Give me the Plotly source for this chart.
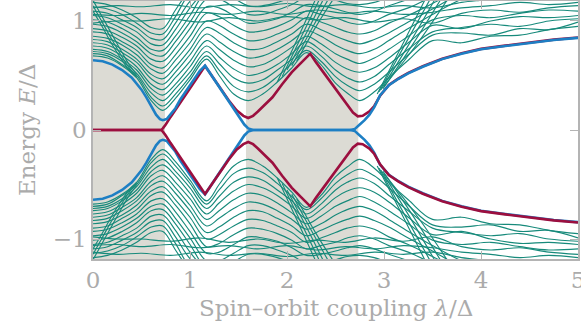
import plotly.graph_objects as go

# ---------------- data (upper half, E >= 0; lower half is the mirror image) -------------
# Lowest Majorana / Andreev branches
blue_x = [0, 0.1, 0.2, 0.3, 0.4, 0.5, 0.55, 0.6, 0.65, 0.69, 0.72, 0.76, 0.8, 0.85, 0.9, 1.0, 1.1, 1.155,
          1.2, 1.3, 1.4, 1.5, 1.56, 1.6, 1.65, 2.65, 2.7, 2.75, 2.8, 2.85, 2.9, 2.96, 3.05, 3.15, 3.25,
          3.4, 3.6, 3.8, 4.0, 4.25, 4.5, 4.75, 5.0]
blue_e = [0.64, 0.63, 0.60, 0.55, 0.48, 0.37, 0.30, 0.22, 0.14, 0.10, 0.09, 0.10, 0.14, 0.20, 0.28, 0.41, 0.54, 0.59,
          0.53, 0.39, 0.255, 0.12, 0.05, 0.015, 0.0, 0.0, 0.01, 0.05, 0.09, 0.14, 0.21, 0.32, 0.41, 0.47, 0.52,
          0.58, 0.65, 0.70, 0.74, 0.77, 0.80, 0.825, 0.845]

red_x = [0, 0.705, 0.72, 0.75, 0.8, 0.9, 1.0, 1.1, 1.155, 1.2, 1.3, 1.4, 1.48, 1.55, 1.6, 1.65, 1.7, 1.78,
         1.85, 1.95, 2.05, 2.15, 2.24, 2.3, 2.4, 2.5, 2.6, 2.68, 2.73, 2.78, 2.85, 2.9, 2.96, 3.05, 3.15,
         3.25, 3.4, 3.6, 3.8, 4.0, 4.25, 4.5, 4.75, 5.0]
red_e = [0, 0, 0.015, 0.05, 0.12, 0.25, 0.38, 0.51, 0.587, 0.53, 0.40, 0.27, 0.18, 0.13, 0.11, 0.13, 0.17, 0.24,
         0.30, 0.42, 0.53, 0.62, 0.70, 0.62, 0.50, 0.37, 0.25, 0.16, 0.125, 0.13, 0.17, 0.22, 0.315, 0.414, 0.474,
         0.524, 0.584, 0.654, 0.704, 0.744, 0.774, 0.804, 0.829, 0.849]

# Bulk (quasi-continuum) levels read on a shared grid
x_grid = [0, 0.15, 0.3, 0.45, 0.6, 0.72, 0.85, 1.0, 1.17, 1.3, 1.45, 1.6, 1.75, 1.9, 2.05, 2.2, 2.35,
          2.5, 2.62, 2.75, 2.9, 3.05, 3.25, 3.5, 3.8, 4.1, 4.4, 4.7, 5.0]
level_01 = [0.68, 0.66, 0.59, 0.48, 0.27, 0.18, 0.29, 0.46, 0.65, 0.50, 0.33, 0.27, 0.33, 0.44, 0.57, 0.71, 0.60,
            0.43, 0.34, 0.27, 0.35, 0.48, 0.64, 0.82, 0.80, 0.86, 0.87, 0.92, 0.95]
level_02 = [0.70, 0.68, 0.60, 0.50, 0.30, 0.22, 0.33, 0.49, 0.68, 0.55, 0.40, 0.35, 0.39, 0.49, 0.61, 0.73, 0.63,
            0.49, 0.41, 0.36, 0.42, 0.53, 0.69, 0.87, 0.89, 0.87, 0.93, 0.92, 0.99]
level_03 = [0.72, 0.70, 0.63, 0.52, 0.34, 0.27, 0.38, 0.53, 0.72, 0.61, 0.48, 0.43, 0.46, 0.55, 0.65, 0.77, 0.68,
            0.55, 0.48, 0.44, 0.49, 0.60, 0.74, 0.90, 0.94, 0.97, 0.95, 1.00, 1.02]
level_04 = [0.74, 0.72, 0.65, 0.55, 0.38, 0.32, 0.42, 0.58, 0.77, 0.67, 0.56, 0.50, 0.53, 0.60, 0.70, 0.81, 0.73,
            0.62, 0.56, 0.53, 0.57, 0.66, 0.80, 0.96, 0.93, 1.00, 1.04, 1.03, 1.05]
level_05 = [0.77, 0.75, 0.68, 0.58, 0.42, 0.37, 0.48, 0.63, 0.82, 0.74, 0.64, 0.58, 0.60, 0.67, 0.76, 0.86, 0.79,
            0.70, 0.65, 0.61, 0.66, 0.74, 0.86, 1.01, 1.05, 1.03, 1.07, 1.10, 1.09]
level_06 = [0.80, 0.78, 0.71, 0.62, 0.47, 0.42, 0.53, 0.69, 0.88, 0.81, 0.72, 0.66, 0.68, 0.74, 0.82, 0.91, 0.86,
            0.78, 0.73, 0.70, 0.74, 0.82, 0.93, 1.06, 1.20, 1.30]
level_07 = [0.83, 0.81, 0.74, 0.65, 0.51, 0.47, 0.58, 0.74, 0.94, 0.89, 0.80, 0.74, 0.75, 0.81, 0.88, 0.97, 0.92,
            0.86, 0.82, 0.79, 0.83, 0.89, 0.99, 1.11, 1.25, 1.30]
level_08 = [0.86, 0.84, 0.78, 0.69, 0.56, 0.52, 0.64, 0.80, 1.00, 0.96, 0.88, 0.82, 0.83, 0.88, 0.94, 1.03, 0.99,
            0.94, 0.90, 0.88, 0.91, 0.98, 1.05, 1.16, 1.30]
level_09 = [0.90, 0.88, 0.81, 0.73, 0.60, 0.57, 0.69, 0.86, 1.07, 1.04, 0.96, 0.90, 0.91, 0.95, 1.01, 1.09, 1.06,
            1.03, 0.99, 0.97, 1.00, 1.06, 1.12, 1.22, 1.30]
level_10 = [0.93, 0.91, 0.85, 0.77, 0.65, 0.63, 0.75, 0.93, 1.13, 1.12, 1.05, 0.98, 0.99, 1.02, 1.08, 1.15, 1.14,
            1.11, 1.08, 1.06, 1.09, 1.14, 1.20, 1.30]
level_11 = [0.97, 0.95, 0.89, 0.81, 0.70, 0.68, 0.81, 0.99, 1.20, 1.20, 1.13, 1.06, 1.06, 1.10, 1.15, 1.22, 1.21,
            1.19, 1.16, 1.15, 1.17, 1.22, 1.30]
level_12 = [1.01, 0.99, 0.93, 0.85, 0.74, 0.73, 0.86, 1.05, 1.27, 1.28, 1.21, 1.14, 1.14, 1.17, 1.22, 1.30]
level_13 = [1.05, 1.03, 0.97, 0.90, 0.79, 0.78, 0.92, 1.12, 1.30]
level_14 = [1.09, 1.07, 1.01, 0.94, 0.84, 0.83, 0.98, 1.18, 1.30]
level_15 = [1.13, 1.11, 1.06, 0.98, 0.89, 0.88, 1.04, 1.25, 1.30]
level_16 = [1.17, 1.15, 1.10, 1.03, 0.94, 0.93, 1.10, 1.30]

# High-lying, nearly flat wavy levels
wavy_x = [0, 0.25, 0.5, 0.8, 1.1, 1.4, 1.7, 2.0, 2.3, 2.6, 2.9, 3.2, 3.5, 3.8, 4.1, 4.4, 4.7, 5.0]
wavy_1 = [0.98, 1.00, 1.00, 1.02, 0.99, 1.03, 1.00, 1.04, 1.01, 1.03, 0.99, 1.02, 0.98, 1.07, 1.10, 1.08, 1.12, 1.14]
wavy_2 = [1.06, 1.05, 1.07, 1.05, 1.08, 1.06, 1.09, 1.06, 1.10, 1.07, 1.09, 1.06, 1.08, 1.12, 1.14, 1.17, 1.15, 1.17]
wavy_3 = [1.12, 1.14, 1.13, 1.15, 1.12, 1.15, 1.13, 1.16, 1.13, 1.15, 1.12, 1.14, 1.12, 1.17, 1.20, 1.25]

# Steep crossing fans
fanA_x = [0, 0.1, 0.2, 0.3, 0.38, 0.45]
fanA_1 = [1.19, 1.03, 0.87, 0.71, 0.59, 0.51]
fanA_2 = [1.14, 0.98, 0.82, 0.67, 0.56, 0.49]
fanA_3 = [1.09, 0.94, 0.78, 0.64, 0.54, 0.48]

fanB_x = [[1.90, 2.10, 2.29], [1.95, 2.15, 2.33], [2.00, 2.20, 2.37], [2.05, 2.25, 2.42], [2.10, 2.30, 2.47]]
fanB_e = [[0.44, 0.82, 1.19], [0.49, 0.86, 1.19], [0.55, 0.89, 1.19], [0.59, 0.92, 1.19], [0.63, 0.95, 1.19]]

fanC_x = [[2.93, 3.20, 3.42], [2.95, 3.22, 3.47], [2.97, 3.26, 3.52], [2.99, 3.30, 3.58], [3.00, 3.35, 3.65]]
fanC_e = [[0.33, 0.80, 1.19], [0.35, 0.79, 1.19], [0.37, 0.79, 1.19], [0.38, 0.79, 1.19], [0.40, 0.80, 1.19]]

# Topological (shaded) intervals of lambda/Delta
shade_ranges = [(0.0, 0.742), (1.577, 2.735)]

x_ticks = [0, 1, 2, 3, 4, 5]
y_ticks = [-1, 0, 1]

# ---------------- styles ----------------
GREEN = "#178a7b"
BLUE = "#1d7fc4"
RED = "#9c0f3f"
SHADE = "#dcdbd4"
AXIS = "#b4b4b4"
TEXT = "#ababab"
FONT = "DejaVu Serif"

fig = go.Figure()


def add_green(xs, es):
    for sign in (1, -1):
        fig.add_trace(go.Scatter(
            x=xs, y=[sign * v for v in es], mode="lines",
            line=dict(color=GREEN, width=1.15, shape="spline", smoothing=1.0),
            hoverinfo="skip", showlegend=False))


levels = [level_01, level_02, level_03, level_04, level_05, level_06, level_07, level_08,
          level_09, level_10, level_11, level_12, level_13, level_14, level_15, level_16]
for lv in levels:
    add_green(x_grid[:len(lv)], lv)
for wv in (wavy_1, wavy_2, wavy_3):
    add_green(wavy_x[:len(wv)], wv)
for fa in (fanA_1, fanA_2, fanA_3):
    add_green(fanA_x, fa)
for xs, es in zip(fanB_x, fanB_e):
    add_green(xs, es)
for xs, es in zip(fanC_x, fanC_e):
    add_green(xs, es)

# red/blue: upper half blue on top, lower half red on top
fig.add_trace(go.Scatter(x=red_x, y=red_e, mode="lines", line=dict(color=RED, width=2.6),
                         hoverinfo="skip", showlegend=False))
fig.add_trace(go.Scatter(x=blue_x, y=blue_e, mode="lines", line=dict(color=BLUE, width=2.6),
                         hoverinfo="skip", showlegend=False))
fig.add_trace(go.Scatter(x=blue_x, y=[-v for v in blue_e], mode="lines", line=dict(color=BLUE, width=2.6),
                         hoverinfo="skip", showlegend=False))
fig.add_trace(go.Scatter(x=red_x, y=[-v for v in red_e], mode="lines", line=dict(color=RED, width=2.6),
                         hoverinfo="skip", showlegend=False))

for x0, x1 in shade_ranges:
    fig.add_shape(type="rect", xref="x", yref="paper", x0=x0, x1=x1, y0=0, y1=1,
                  fillcolor=SHADE, line=dict(width=0), layer="below")

fig.update_xaxes(range=[0, 5], tickvals=x_ticks, ticktext=[str(t) for t in x_ticks],
                 ticks="inside", ticklen=8, tickcolor=AXIS, tickwidth=1.2,
                 showline=True, linecolor=AXIS, linewidth=1.5, mirror="ticks",
                 showgrid=False, zeroline=False, automargin=False, ticklabeloverflow="allow",
                 tickfont=dict(family=FONT, size=23, color=TEXT))
fig.update_yaxes(range=[-1.183, 1.183], tickvals=y_ticks, ticktext=["\u22121", "0", "1"],
                 ticks="inside", ticklen=8, tickcolor=AXIS, tickwidth=1.2,
                 showline=True, linecolor=AXIS, linewidth=1.5, mirror="ticks",
                 showgrid=False, zeroline=False, automargin=False, ticklabeloverflow="allow",
                 tickfont=dict(family=FONT, size=23, color=TEXT))

fig.add_annotation(text="Spin\u2013orbit coupling <i>\u03bb</i>/\u0394", xref="paper", yref="paper",
                   x=0.5, y=-0.19, xanchor="center", yanchor="middle", showarrow=False,
                   font=dict(family=FONT, size=23, color=TEXT))
fig.add_annotation(text="Energy <i>E</i>/\u0394", xref="paper", yref="paper",
                   x=-0.136, y=0.5, xanchor="center", yanchor="middle", textangle=-90, showarrow=False,
                   font=dict(family=FONT, size=23, color=TEXT))

fig.update_layout(width=581, height=331, margin=dict(l=93, r=3, t=1, b=72),
                  plot_bgcolor="white", paper_bgcolor="white", showlegend=False)

fig.write_html("out.html", config={"displayModeBar": False},
               post_script="document.body.style.margin='0px';document.body.style.padding='0px';")
